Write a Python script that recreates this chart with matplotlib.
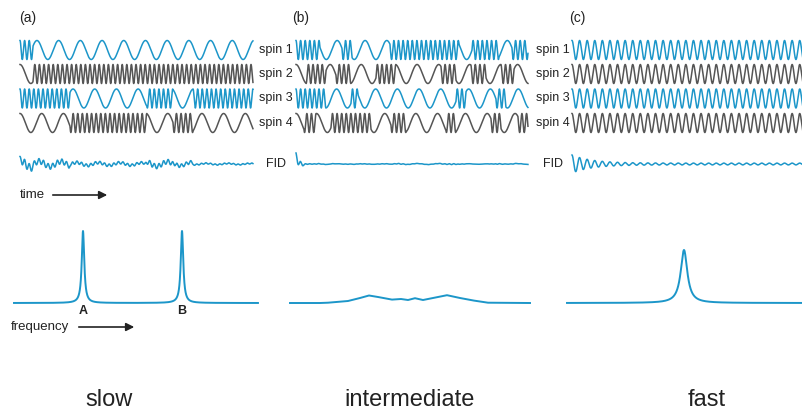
import numpy as np
import matplotlib.pyplot as plt

plt.rcParams['font.family'] = ['Liberation Sans', 'DejaVu Sans']

BLUE = '#1c96c9'
GREY = '#555555'
INK = '#222222'

# oscillation periods of the two sites (px of trace)
period_fast = 4.6
period_slow = 21.7

panel_tags = ['(a)', '(b)', '(c)']
regime_names = ['slow', 'intermediate', 'fast']
spin_names = ['spin 1', 'spin 2', 'spin 3', 'spin 4']

# site occupied at t=0 and the times (px along trace) where a spin hops
a_first = ['fast', 'slow', 'fast', 'slow']
a_hops = [[13], [13], [50, 127, 153, 173], [50, 127, 153, 173]]
b_first = ['fast', 'slow', 'fast', 'slow']
b_hops = [[24, 46, 56, 94, 163, 176, 203, 216],
          [10, 30, 40, 55, 80, 100, 145, 160, 175, 190, 205, 218],
          [30, 55, 62, 160, 170, 200, 210],
          [8, 20, 35, 75, 95, 110, 150, 160, 195, 205, 222]]
c_first = ['avg', 'avg', 'avg', 'avg']
c_hops = [[], [], [], []]

# FID envelope: amplitude, decay constant (px), residual level
fid_amp = [7.5, 11, 9]
fid_decay = [300, 4, 20]
fid_floor = [0.0, 0.06, 0.1]

# spectra
a_peaks = [83, 182]
a_halfwidth = 1.5
a_height = 72
b_freq = [290, 320, 328, 348, 360, 369, 378, 392, 401, 408, 415, 423, 437, 447, 460, 474, 488, 530]
b_height = [0, 0, 0.3, 2, 5, 7.5, 6, 3.4, 4, 3, 4.8, 3, 5.8, 7.8, 5, 2.4, 0.3, 0]
c_peak = 684
c_halfwidth = 4
c_height = 53

freqs = {'fast': 1 / period_fast, 'slow': 1 / period_slow,
         'avg': 0.5 * (1 / period_fast + 1 / period_slow)}
other = {'fast': 'slow', 'slow': 'fast', 'avg': 'avg'}


def spin_trace(first, hops, length, dt=0.05):
    t = np.arange(0, length, dt)
    n = np.searchsorted(np.array(hops, dtype=float), t, side='right')
    f = np.where(n % 2 == 0, freqs[first], freqs[other[first]])
    phase = 2 * np.pi * (np.cumsum(f) - f[0]) * dt
    return t, np.cos(phase)


fig = plt.figure(figsize=(8.03, 4.13), dpi=100)
ax = fig.add_axes([0, 0, 1, 1])
ax.set_xlim(0, 803)
ax.set_ylim(413, 0)
ax.axis('off')

x0s = [20, 296, 572]
lengths = [233, 232, 231]
rows = [50, 74, 98.5, 123]
fid_y = 164
firsts = [a_first, b_first, c_first]
hops_all = [a_hops, b_hops, c_hops]
tag_x = [19, 292, 569]

for p in range(3):
    sigs = []
    for k in range(4):
        t, s = spin_trace(firsts[p][k], hops_all[p][k], lengths[p])
        sigs.append(s)
        color = BLUE if k % 2 == 0 else GREY
        ax.plot(x0s[p] + t, rows[k] - 9.5 * s, color=color, lw=1.1)
    env = (1 - fid_floor[p]) * np.exp(-t / fid_decay[p]) + fid_floor[p]
    fid = np.mean(sigs, axis=0) * env
    ax.plot(x0s[p] + t, fid_y - fid_amp[p] * fid, color=BLUE, lw=1.1)
    ax.text(tag_x[p], 18, panel_tags[p], fontsize=10, color=INK, va='center')

for lx in [276, 553]:
    for k in range(4):
        ax.text(lx, rows[k], spin_names[k], fontsize=9, color=INK,
                ha='center', va='center')
    ax.text(lx, fid_y, 'FID', fontsize=9, color=INK, ha='center', va='center')

base = 303
fa = np.arange(14, 258, 0.05)
sa = sum(a_height * a_halfwidth**2 / (a_halfwidth**2 + (fa - c)**2) for c in a_peaks)
ax.plot(fa, base - sa, color=BLUE, lw=1.4)
ax.plot(b_freq, base - np.array(b_height), color=BLUE, lw=1.4)
fc = np.arange(567, 803, 0.05)
sc = c_height * c_halfwidth**2 / (c_halfwidth**2 + (fc - c_peak)**2)
ax.plot(fc, base - sc, color=BLUE, lw=1.4)

for c, lab in zip(a_peaks, ['A', 'B']):
    ax.text(c, 311, lab, fontsize=9, fontweight='bold', color=INK,
            ha='center', va='center')

ax.text(20, 195, 'time', fontsize=9.5, color=INK, va='center')
ax.annotate('', xy=(110, 195), xytext=(50, 195),
            arrowprops=dict(arrowstyle='-|>', color=INK, lw=1.2, mutation_scale=12))
ax.text(11, 327, 'frequency', fontsize=9.5, color=INK, va='center')
ax.annotate('', xy=(137, 327), xytext=(76, 327),
            arrowprops=dict(arrowstyle='-|>', color=INK, lw=1.2, mutation_scale=12))

for x, name in zip([109, 410, 707], regime_names):
    ax.text(x, 406, name, fontsize=17, color=INK, ha='center', va='baseline')

fig.savefig('out.png', dpi=100)
